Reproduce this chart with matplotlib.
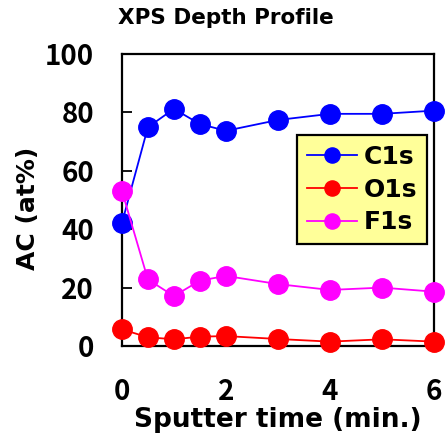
import matplotlib
matplotlib.use('Agg')
import matplotlib.pyplot as plt

plt.rcParams['font.family'] = ['Noto Sans CJK JP', 'DejaVu Sans']
plt.rcParams['font.weight'] = 'bold'

time_min = [0, 0.5, 1, 1.5, 2, 3, 4, 5, 6]
c1s = [42.0, 74.9, 81.2, 76.0, 73.7, 77.4, 79.5, 79.5, 80.6]
o1s = [5.7, 3.0, 2.3, 3.2, 3.4, 2.4, 1.5, 2.3, 1.5]
f1s = [53.2, 22.8, 17.1, 22.4, 24.0, 21.2, 19.2, 20.0, 18.6]
labels = ['C1s', 'O1s', 'F1s']
colors = ['#0000ff', '#ff0000', '#ff00ff']

fig = plt.figure(figsize=(4.48, 4.41), dpi=100)
ax = fig.add_axes([0.272, 0.2154, 0.697, 0.6622])

for y, lab, c in zip([c1s, o1s, f1s], labels, colors):
    ax.plot(time_min, y, '-o', color=c, lw=1.3, ms=14, label=lab, clip_on=False, zorder=3)

ax.set_xlim(0, 6)
ax.set_ylim(0, 100)
ax.set_xticks([0, 2, 4, 6])
ax.set_yticks([0, 20, 40, 60, 80, 100])
ax.tick_params(axis='y', direction='in', length=7, width=1.3, labelsize=20, pad=20)
ax.tick_params(axis='x', direction='in', length=0, labelsize=20, pad=23)
for s in ax.spines.values():
    s.set_linewidth(1.6)

ax.set_xlabel('Sputter time (min.)', fontsize=19, fontweight='bold', family='DejaVu Sans', labelpad=1)
ax.set_ylabel('AC (at%)', fontsize=18, fontweight='bold', family='DejaVu Sans')
ax.yaxis.set_label_coords(-0.262, 0.47)
fig.text(0.504, 0.959, 'XPS Depth Profile', fontsize=15.5, fontweight='bold', family='DejaVu Sans',
         ha='center', va='center')

leg = ax.legend(loc='upper right', bbox_to_anchor=(0.978, 0.723), frameon=True,
                prop={'family': 'DejaVu Sans', 'weight': 'bold', 'size': 18},
                fancybox=False, handlelength=2.0, borderpad=0.4, labelspacing=0.35,
                handletextpad=0.25, markerscale=0.78, borderaxespad=0)
leg.get_frame().set_facecolor('#ffff99')
leg.get_frame().set_edgecolor('black')
leg.get_frame().set_linewidth(1.6)
leg.get_frame().set_alpha(1)

fig.savefig('out.png', dpi=100)
